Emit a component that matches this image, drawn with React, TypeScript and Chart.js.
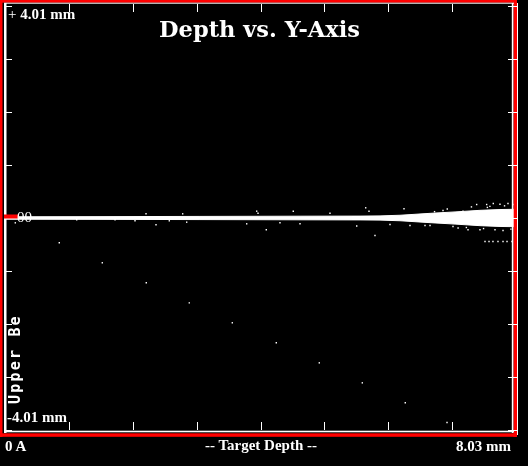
import { useEffect, useRef } from "react"
import { Chart, registerables } from "chart.js"

Chart.register(...registerables)

const X_MIN = 0
const X_MAX = 8.03
const Y_MIN = -4.01
const Y_MAX = 4.01

// tick marks, 8 divisions on each axis
const xTickValues = [1.004, 2.008, 3.011, 4.015, 5.019, 6.023, 7.026]
const yTickValues = [-4.01, -3.008, -2.005, -1.003, 0, 1.003, 2.005, 3.008, 4.01]

// dense centre band: depth and half width of the trace
const bandDepth = [0, 1.493, 3.064, 4.636, 5.579, 5.893, 6.207, 6.679, 7.072, 7.464, 7.779, 8.03]
const bandHalf = [0.023, 0.026, 0.03, 0.034, 0.036, 0.04, 0.052, 0.088, 0.115, 0.145, 0.16, 0.165]

// loose hits around the band
const noiseDepth = [
  0.162, 1.127, 1.729, 2.043, 2.216, 2.373, 2.582, 2.792, 2.855, 3.798, 3.955, 3.976, 4.106, 4.321,
  4.53, 4.636, 5.107, 5.527, 5.668, 5.72, 5.814, 6.05, 6.27, 6.364, 6.6, 6.679, 6.883, 7.04, 7.197,
  7.276, 7.412, 7.464, 7.569, 7.673, 7.7, 7.778, 7.826, 7.904, 7.983,
  7.543, 7.606, 7.668, 7.747, 7.826, 7.889, 7.967, 8.02,
  6.95, 7.12, 7.33, 7.52, 7.62, 7.85, 7.95, 6.75, 7.25, 7.58,
]
const noiseY = [
  -0.091, -0.034, -0.034, -0.053, 0.079, -0.129, -0.053, 0.079, -0.079, -0.11, 0.129, 0.091, -0.223, -0.091,
  0.129, -0.11, 0.091, -0.151, 0.193, 0.129, -0.331, -0.123, 0.174, -0.142, -0.142, -0.142, 0.142, -0.161, 0.129,
  -0.223, 0.255, -0.223, 0.255, 0.274, -0.223, 0.261, -0.236, 0.274, 0.255,
  -0.445, -0.445, -0.445, -0.445, -0.445, -0.445, -0.445, -0.445,
  0.17, -0.19, 0.21, -0.2, 0.22, 0.23, -0.21, 0.12, -0.18, 0.2,
]

// diagonal run of stray hits
const strayDepth = [0.853, 1.529, 2.22, 2.896, 3.572, 4.263, 4.939, 5.615, 6.29, 6.946]
const strayY = [-0.469, -0.847, -1.226, -1.605, -1.982, -2.361, -2.74, -3.118, -3.496, -3.868]

const framePlugin = {
  id: "frame",
  afterDraw(chart) {
    const { ctx } = chart
    const x = chart.scales.x
    const y = chart.scales.y
    ctx.save()
    ctx.fillStyle = "#ff0000"
    ctx.fillRect(0, 0, 2.5, 437)
    ctx.fillRect(0, 0, 517, 2.7)
    ctx.fillRect(513.5, 0, 3.5, 437)
    ctx.fillRect(0, 433.3, 517, 3.5)

    ctx.fillStyle = "#ffffff"
    ctx.fillRect(4, 3, 2.5, 430)
    ctx.fillRect(4, 2.7, 510, 1)
    ctx.fillRect(511.8, 3, 1.6, 430)
    ctx.fillRect(517, 3, 1, 432)
    ctx.fillRect(4, 430.7, 510, 1.6)

    xTickValues.forEach((v) => {
      const px = Math.round(x.getPixelForValue(v))
      ctx.fillRect(px, 4, 1, 8)
      ctx.fillRect(px, 422, 1, 8)
    })
    yTickValues.forEach((v) => {
      const py = Math.round(y.getPixelForValue(v))
      ctx.fillRect(6, py, 6, 1)
      ctx.fillRect(508, py, 10, 1)
    })

    // red zero marker on the left edge
    ctx.fillStyle = "#ff0000"
    ctx.fillRect(4, y.getPixelForValue(0) - 3.5, 15, 4)
    ctx.restore()
  },
}

const serif = "'Liberation Serif', 'Times New Roman', serif"

export default function App() {
  const canvasRef = useRef(null)
  const chartRef = useRef(null)

  useEffect(() => {
    if (!canvasRef.current) return
    if (chartRef.current) chartRef.current.destroy()

    chartRef.current = new Chart(canvasRef.current, {
      type: "scatter",
      data: {
        datasets: [
          {
            type: "line",
            data: bandDepth.map((d, i) => ({ x: d, y: bandHalf[i] })),
            borderColor: "#ffffff",
            borderWidth: 1,
            backgroundColor: "#ffffff",
            pointRadius: 0,
            fill: "+1",
          },
          {
            type: "line",
            data: bandDepth.map((d, i) => ({ x: d, y: -bandHalf[i] })),
            borderColor: "#ffffff",
            borderWidth: 1,
            pointRadius: 0,
            fill: false,
          },
          {
            data: noiseDepth.map((d, i) => ({ x: d, y: noiseY[i] })),
            pointStyle: "rect",
            pointRadius: 1,
            pointBorderWidth: 0,
            backgroundColor: "#ffffff",
            borderColor: "#ffffff",
          },
          {
            data: strayDepth.map((d, i) => ({ x: d, y: strayY[i] })),
            pointStyle: "rect",
            pointRadius: 1,
            pointBorderWidth: 0,
            backgroundColor: "#ffffff",
            borderColor: "#ffffff",
          },
        ],
      },
      options: {
        animation: false,
        responsive: false,
        events: [],
        layout: { padding: { left: 5, right: 12, top: 6, bottom: 36 } },
        scales: {
          x: { type: "linear", min: X_MIN, max: X_MAX, display: false },
          y: { type: "linear", min: Y_MIN, max: Y_MAX, display: false },
        },
        plugins: {
          legend: { display: false },
          tooltip: { enabled: false },
        },
      },
      plugins: [framePlugin],
    })

    return () => {
      if (chartRef.current) {
        chartRef.current.destroy()
        chartRef.current = null
      }
    }
  }, [])

  const label = {
    position: "absolute",
    color: "#ffffff",
    fontFamily: serif,
    fontWeight: "bold",
    fontSize: "15px",
    lineHeight: "15px",
    whiteSpace: "nowrap",
  } as const

  return (
    <div style={{ position: "fixed", left: 0, top: 0, width: 528, height: 466, background: "#000000", overflow: "hidden" }}>
      <canvas ref={canvasRef} width={528} height={466} style={{ position: "absolute", left: 0, top: 0 }}></canvas>
      <div
        style={{
          position: "absolute",
          left: 0,
          width: 519,
          top: 17.7,
          textAlign: "center",
          color: "#ffffff",
          fontFamily: "'DejaVu Serif', serif",
          fontWeight: "bold",
          fontSize: "22.5px",
          lineHeight: "22.5px",
          whiteSpace: "nowrap",
        }}
      >
        Depth vs. Y-Axis
      </div>
      <div style={{ ...label, left: 8, top: 7.4 }}>
        <span style={{ fontWeight: "normal" }}>+</span> 4.01 mm
      </div>
      <div style={{ ...label, left: 7, top: 410 }}>-4.01 mm</div>
      <div style={{ ...label, left: 17, top: 210.4, fontWeight: "normal" }}>00</div>
      <div style={{ ...label, left: 5, top: 439 }}>0 A</div>
      <div style={{ ...label, left: 0, width: 522, top: 438.3, textAlign: "center" }}>-- Target Depth --</div>
      <div style={{ ...label, left: 456, top: 438.5 }}>8.03 mm</div>
      <div
        style={{
          position: "absolute",
          left: 8,
          top: 404,
          transform: "rotate(-90deg)",
          transformOrigin: "left top",
          color: "#ffffff",
          fontFamily: "'DejaVu Sans Mono', monospace",
          fontWeight: "bold",
          fontSize: "15px",
          lineHeight: "15px",
          letterSpacing: "2.2px",
          whiteSpace: "nowrap",
        }}
      >
        Upper Be
      </div>
    </div>
  )
}
